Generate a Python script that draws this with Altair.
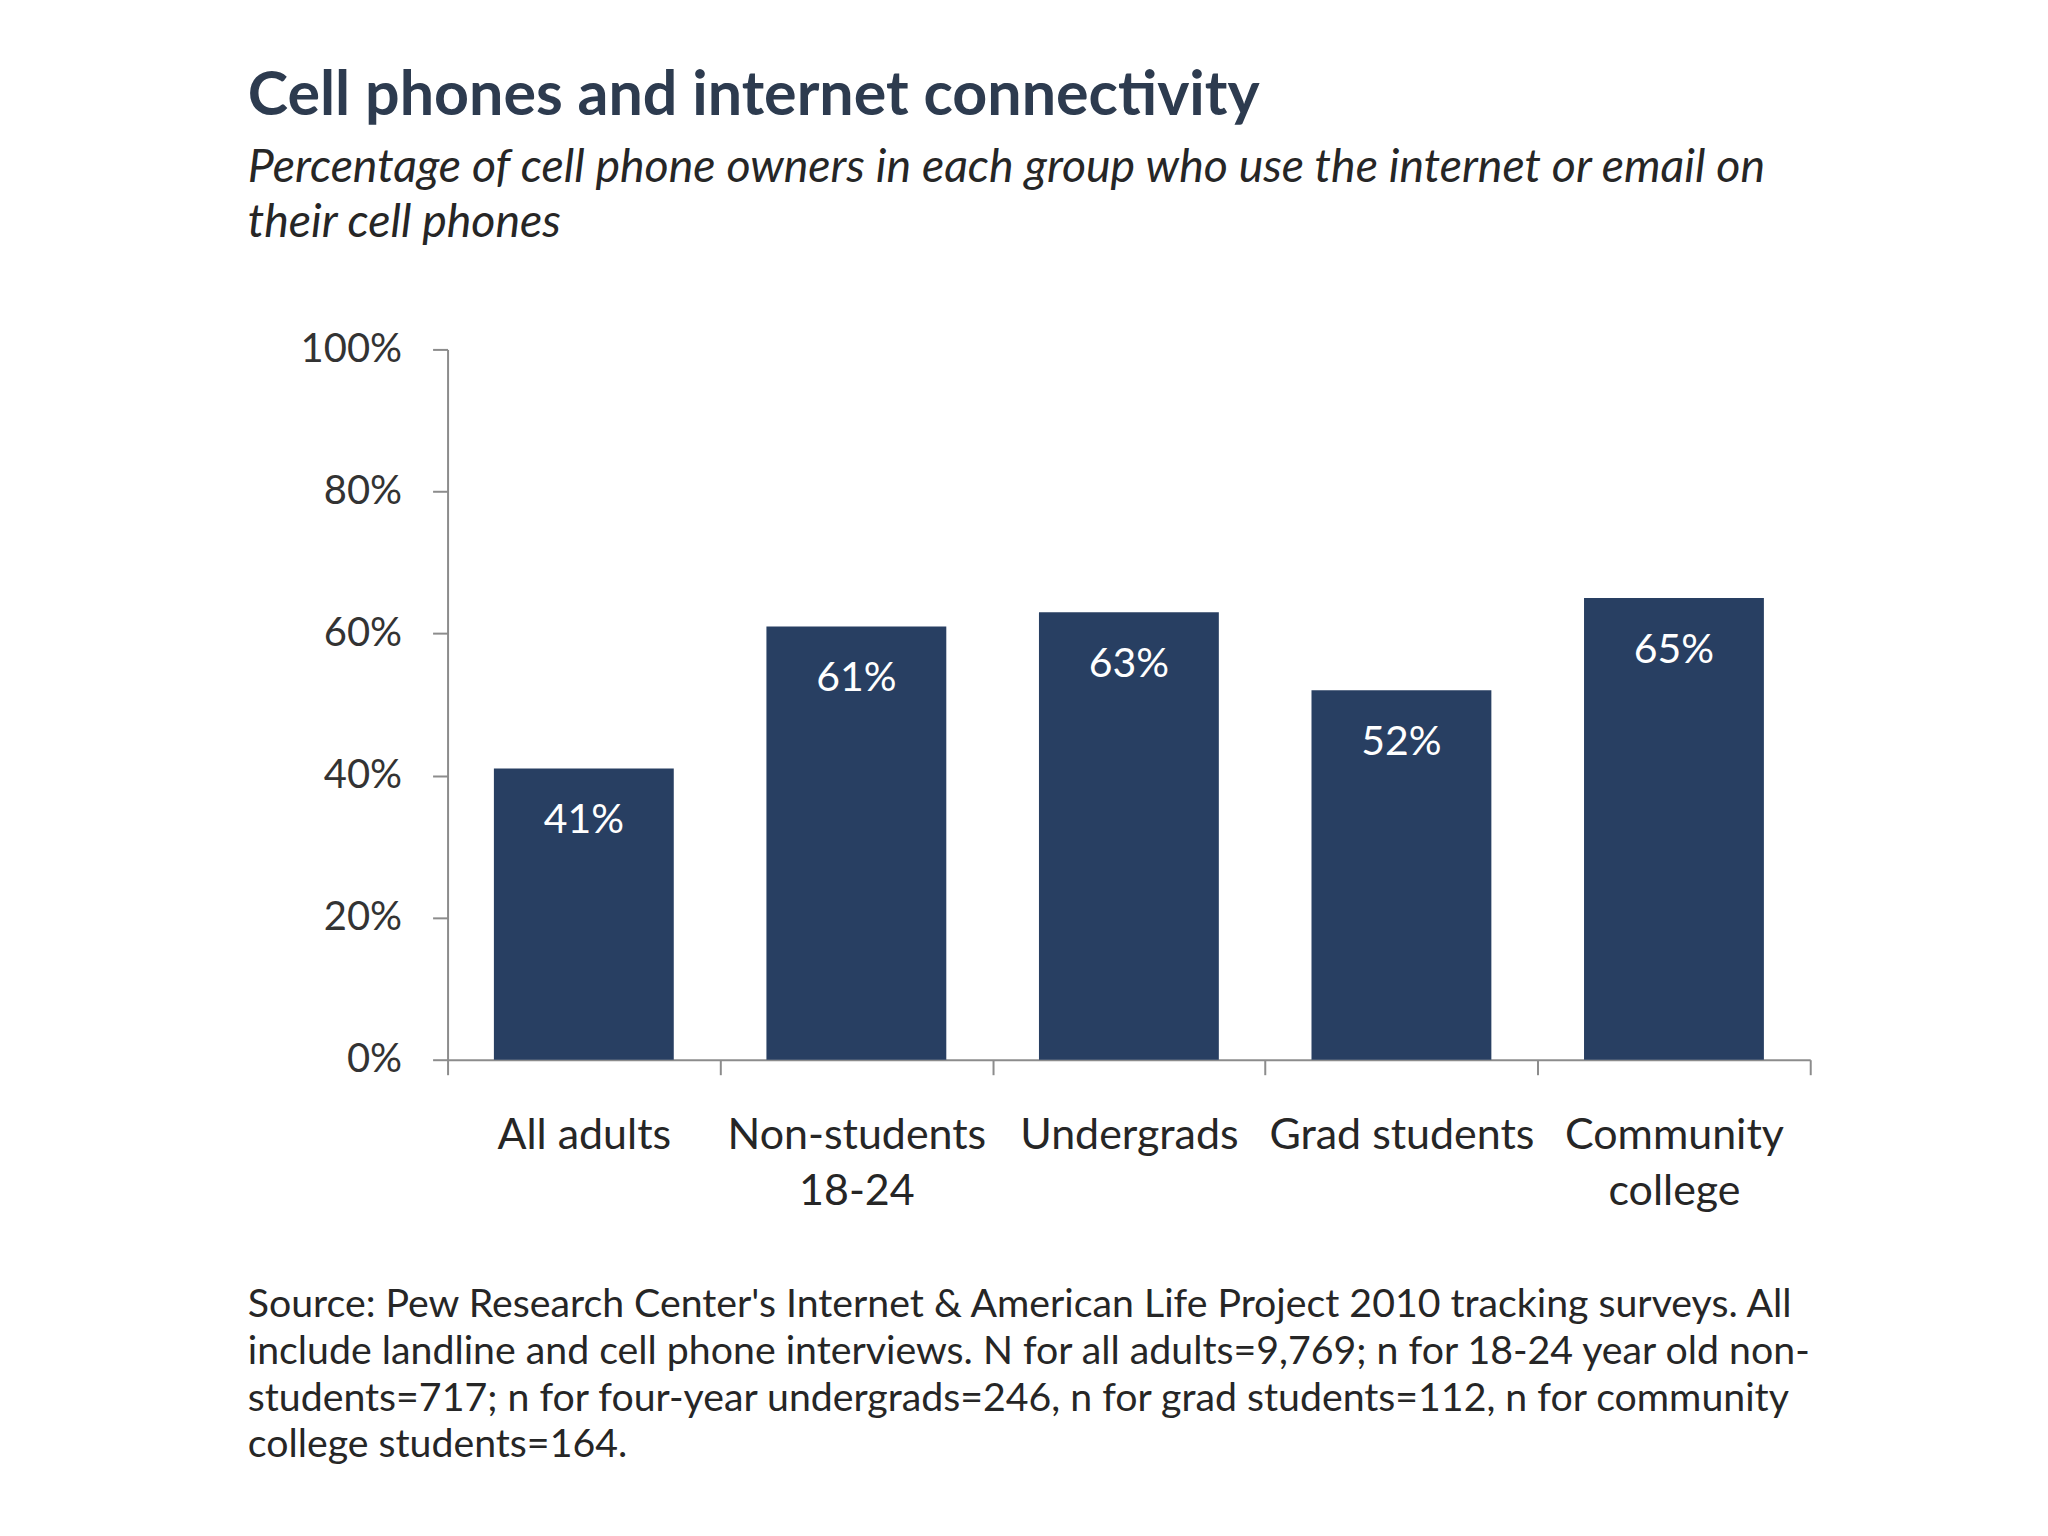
import altair as alt
import pandas as pd

CATEGORIES = ["All adults", "Non-students 18-24", "Undergrads", "Grad students", "Community college"]
VALUES = [41, 61, 63, 52, 65]
LABELS = ["41%", "61%", "63%", "52%", "65%"]
Y_TICKS = [0, 20, 40, 60, 80, 100]
TITLE = "Cell phones and internet connectivity"
SUBTITLE = [
    "Percentage of cell phone owners in each group who use the internet or email on",
    "their cell phones",
]
FOOTER = [
    "Source: Pew Research Center's Internet & American Life Project 2010 tracking surveys. All",
    "include landline and cell phone interviews. N for all adults=9,769; n for 18-24 year old non-",
    "students=717; n for four-year undergrads=246, n for grad students=112, n for community",
    "college students=164.",
]

FONT = "Lato"
BAR = "#283f62"
AXIS_GREY = "#8c8c8c"

df = pd.DataFrame({"group": CATEGORIES, "pct": VALUES, "label": LABELS})

label_expr = (
    "datum.label == 'Non-students 18-24' ? ['Non-students', '18-24'] : "
    "datum.label == 'Community college' ? ['Community', 'college'] : datum.label"
)

base = alt.Chart(df).encode(
    x=alt.X(
        "group:N",
        sort=CATEGORIES,
        scale=alt.Scale(paddingInner=0, paddingOuter=0),
        axis=alt.Axis(
            title=None,
            labelAngle=0,
            labelExpr=label_expr,
            labelLimit=0,
            labelFont=FONT,
            labelFontSize=43,
            labelLineHeight=56,
            labelColor="#262626",
            labelPadding=40,
            tickBand="extent",
            tickSize=15,
            tickWidth=2,
            tickColor=AXIS_GREY,
            domainColor=AXIS_GREY,
            domainWidth=2,
            grid=False,
        ),
    ),
    y=alt.Y(
        "pct:Q",
        scale=alt.Scale(domain=[0, 100]),
        axis=alt.Axis(
            title=None,
            values=Y_TICKS,
            labelExpr="datum.value + '%'",
            labelFont=FONT,
            labelFontSize=40,
            labelColor="#333333",
            labelPadding=31,
            tickSize=15,
            tickWidth=2,
            tickColor=AXIS_GREY,
            domainColor=AXIS_GREY,
            domainWidth=2,
            grid=False,
        ),
    ),
)

bars = base.mark_bar(color=BAR, width=alt.RelativeBandSize(0.66))
values_text = base.mark_text(
    color="white", font=FONT, fontSize=41, baseline="middle", dy=53
).encode(text="label:N")

footer = (
    alt.Chart(pd.DataFrame({"k": [0]}))
    .mark_text(
        align="left",
        baseline="alphabetic",
        font=FONT,
        fontSize=39.3,
        lineHeight=46.7,
        color="#262626",
    )
    .encode(x=alt.value(-200), y=alt.value(969), text=alt.value(FOOTER))
)

chart = (
    alt.layer(bars, values_text, footer)
    .properties(
        width=1364,
        height=711,
        autosize=alt.AutoSizeParams(type="none"),
        padding={"left": 440, "top": 341, "right": 230, "bottom": 470},
        background="white",
        title=alt.TitleParams(
            text=TITLE,
            subtitle=SUBTITLE,
            anchor="start",
            frame="group",
            dx=-200,
            offset=82,
            font=FONT,
            fontSize=61,
            fontWeight="bold",
            color="#2d3b4f",
            subtitleFont=FONT,
            subtitleFontSize=46.5,
            subtitleFontStyle="italic",
            subtitleColor="#262626",
            subtitleLineHeight=55,
            subtitlePadding=17,
        ),
    )
    .configure_view(stroke=None)
)

chart.save("out.html", embed_options={"renderer": "svg", "actions": False})
